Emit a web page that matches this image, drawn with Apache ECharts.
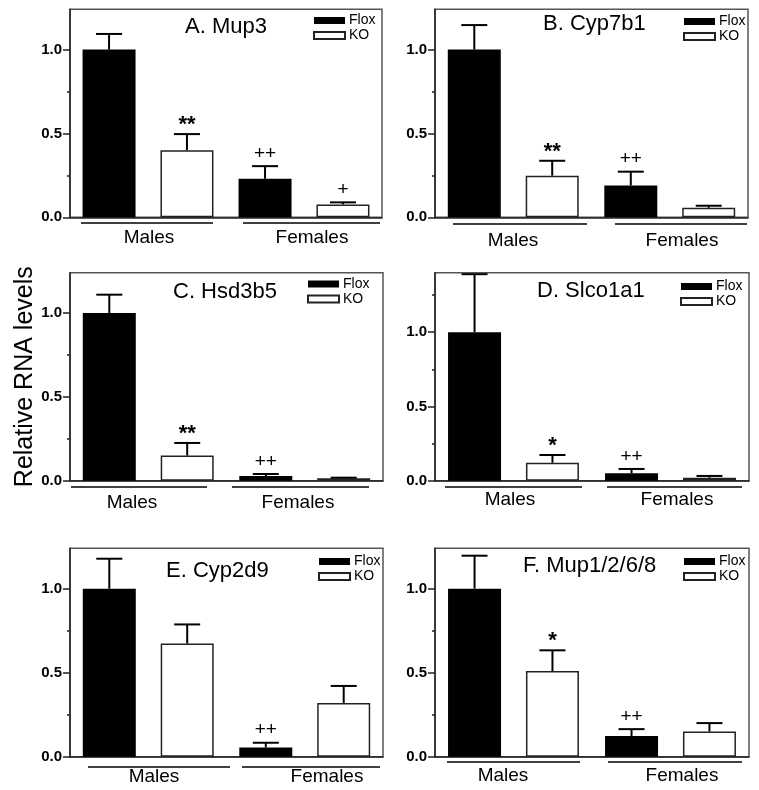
<!DOCTYPE html>
<html>
<head>
<meta charset="utf-8">
<script src="https://cdn.jsdelivr.net/npm/echarts@6/dist/echarts.min.js"></script>
<style>
  html, body { margin: 0; padding: 0; background: #fff; }
  #chart { width: 759px; height: 790px; }
</style>
</head>
<body>
<div id="chart"></div>
<script>
// ---------------- DATA ----------------
const categories = ['Males', 'Females'];
const seriesNames = ['Flox', 'KO'];
const panelTitles = ['A. Mup3', 'B. Cyp7b1', 'C. Hsd3b5', 'D. Slco1a1', 'E. Cyp2d9', 'F. Mup1/2/6/8'];
const floxMean   = [[1.0, 0.23], [1.0, 0.19], [1.0, 0.028], [1.0, 0.05], [1.0, 0.055], [1.0, 0.123]];
const floxErrTop = [[1.093, 0.305], [1.146, 0.272], [1.109, 0.04], [1.39, 0.079], [1.178, 0.083], [1.196, 0.164]];
const koMean     = [[0.40, 0.077], [0.248, 0.057], [0.15, 0.014], [0.121, 0.02], [0.673, 0.32], [0.51, 0.15]];
const koErrTop   = [[0.496, 0.089], [0.337, 0.069], [0.225, 0.018], [0.173, 0.032], [0.787, 0.421], [0.633, 0.2]];
const floxMarks  = [['', '++'], ['', '++'], ['', '++'], ['', '++'], ['', '++'], ['', '++']];
const koMarks    = [['**', '+'], ['**', ''], ['**', ''], ['*', ''], ['', ''], ['*', '']];
const yMax = [1.24, 1.24, 1.24, 1.40, 1.24, 1.24];
const yTickValues = [0, 0.5, 1.0];
const yMinorValues = [0.25, 0.75, 1.25];
const yAxisTitle = 'Relative RNA levels';

// ---------------- LAYOUT ----------------
const FONT = "'Liberation Sans', Arial, Helvetica, sans-serif";
const grids = [
  { left: 70,  top: 9.3,   right: 382, bottom: 217.3 },
  { left: 435, top: 9.3,   right: 748, bottom: 217.3 },
  { left: 70,  top: 272.7, right: 383, bottom: 480.7 },
  { left: 435, top: 272.7, right: 749, bottom: 480.7 },
  { left: 70,  top: 548.3, right: 383, bottom: 756.7 },
  { left: 435, top: 548.3, right: 749, bottom: 756.7 }
];
const titlePos = [[185, 15.5], [543, 13], [173, 281], [537, 280], [166, 560], [523, 555]];
const legendPos = [[313, 13.5], [683, 14.5], [307, 277], [680, 279.5], [318, 554.5], [683, 554.5]];
// group underline: [x1, x2] for Males, Females, and y ; label centres x and y
const groupLines = [
  { m: [81, 213],  f: [243, 380], y: 223, lm: 149, lf: 312, ly: 237.5 },
  { m: [453, 587], f: [615, 747], y: 224, lm: 513, lf: 682, ly: 241 },
  { m: [71, 207],  f: [232, 369], y: 487, lm: 132, lf: 298, ly: 503 },
  { m: [445, 582], f: [607, 742], y: 487, lm: 510, lf: 677, ly: 500 },
  { m: [88, 230],  f: [242, 380], y: 767, lm: 154, lf: 327, ly: 777 },
  { m: [447, 580], f: [608, 742], y: 762, lm: 503, lf: 682, ly: 776 }
];
const BAR_W = 53;
const BAR_GAP = 0.47;
const OFFSET = BAR_W * (1 + BAR_GAP) / 2;
const CAP_HALF = 13;

const option = {
  animation: false,
  backgroundColor: '#fff',
  textStyle: { fontFamily: FONT },
  title: [],
  legend: [],
  grid: [],
  xAxis: [],
  yAxis: [],
  series: [],
  graphic: []
};

function errSeries(p, means, tops, marks, sign, name) {
  return {
    type: 'custom',
    name: name,
    xAxisIndex: p,
    yAxisIndex: 2 * p,
    clip: false,
    z: 5,
    data: categories.map((c, i) => [i, means[p][i], tops[p][i]]),
    encode: { x: 0, y: [1, 2] },
    renderItem: function (params, api) {
      const cat = api.value(0);
      const base = api.coord([cat, api.value(1)]);
      const top = api.coord([cat, api.value(2)]);
      const x = base[0] + sign * OFFSET;
      const mark = marks[p][params.dataIndex];
      const children = [
        { type: 'line', shape: { x1: x, y1: base[1], x2: x, y2: top[1] }, style: { stroke: '#000', lineWidth: 2 } },
        { type: 'line', shape: { x1: x - CAP_HALF, y1: top[1], x2: x + CAP_HALF, y2: top[1] }, style: { stroke: '#000', lineWidth: 2 } }
      ];
      if (mark) {
        const isStar = mark.indexOf('*') >= 0;
        children.push({
          type: 'text',
          style: {
            text: mark, x: x, y: top[1] - (isStar ? -2 : 3),
            align: 'center', verticalAlign: 'bottom',
            fontFamily: FONT, fontSize: isStar ? 22 : 19,
            fontWeight: isStar ? 'bold' : 'normal', fill: '#000'
          }
        });
      }
      return { type: 'group', children: children };
    }
  };
}

for (let p = 0; p < 6; p++) {
  const g = grids[p];
  option.grid.push({
    left: g.left, top: g.top, width: g.right - g.left, height: g.bottom - g.top,
    show: true, borderColor: '#555', borderWidth: 1.5, backgroundColor: 'transparent',
    containLabel: false, outerBoundsMode: 'none'
  });
  option.title.push({
    text: panelTitles[p], left: titlePos[p][0], top: titlePos[p][1], padding: 0,
    textStyle: { fontFamily: FONT, fontSize: 22, fontWeight: 'normal', color: '#000' }
  });
  option.legend.push({
    data: seriesNames, orient: 'vertical', left: legendPos[p][0], top: legendPos[p][1],
    padding: 0, itemWidth: 31, itemHeight: 7, itemGap: 1, selectedMode: false, icon: 'rect',
    textStyle: { fontFamily: FONT, fontSize: 14, lineHeight: 14, color: '#000', padding: [0, 0, 0, -1] }
  });
  option.xAxis.push({
    type: 'category', gridIndex: p, data: categories,
    axisLine: { show: true, lineStyle: { color: '#222', width: 1.5 } },
    axisTick: { show: false }, axisLabel: { show: false }, splitLine: { show: false }
  });
  option.yAxis.push({
    type: 'value', gridIndex: p, position: 'left', min: 0, max: yMax[p],
    name: p === 2 ? yAxisTitle : '',
    nameLocation: 'middle', nameRotate: 90, nameGap: 30,
    nameTextStyle: { fontFamily: FONT, fontSize: 25, color: '#000' },
    axisLine: { show: true, lineStyle: { color: '#222', width: 1.5 } },
    axisTick: { show: true, length: 7, customValues: yTickValues, lineStyle: { color: '#222', width: 1.5 } },
    axisLabel: {
      show: true, customValues: yTickValues, margin: 8,
      formatter: v => v.toFixed(1),
      fontFamily: FONT, fontSize: 15, fontWeight: 'bold', color: '#000'
    },
    splitLine: { show: false }
  });
  option.yAxis.push({
    type: 'value', gridIndex: p, position: 'left', offset: 0, min: 0, max: yMax[p],
    axisLine: { show: false },
    axisTick: { show: true, length: 3, customValues: yMinorValues.filter(v => v < yMax[p]), lineStyle: { color: '#222', width: 1.5 } },
    axisLabel: { show: false },
    splitLine: { show: false }
  });
  option.series.push({
    type: 'bar', name: 'Flox', xAxisIndex: p, yAxisIndex: 2 * p,
    data: floxMean[p], barWidth: BAR_W, barGap: (BAR_GAP * 100) + '%',
    itemStyle: { color: '#000' }, z: 2
  });
  option.series.push({
    type: 'bar', name: 'KO', xAxisIndex: p, yAxisIndex: 2 * p,
    data: koMean[p], barWidth: BAR_W, barGap: (BAR_GAP * 100) + '%',
    itemStyle: { color: '#fff', borderColor: '#222', borderWidth: 1.5 }, z: 2
  });
  option.series.push(errSeries(p, floxMean, floxErrTop, floxMarks, -1, 'Flox SEM'));
  option.series.push(errSeries(p, koMean, koErrTop, koMarks, 1, 'KO SEM'));

  const gl = groupLines[p];
  option.graphic.push(
    { type: 'line', shape: { x1: gl.m[0], y1: gl.y, x2: gl.m[1], y2: gl.y }, style: { stroke: '#000', lineWidth: 1.5 } },
    { type: 'line', shape: { x1: gl.f[0], y1: gl.y, x2: gl.f[1], y2: gl.y }, style: { stroke: '#000', lineWidth: 1.5 } },
    { type: 'text', x: gl.lm, y: gl.ly, style: { text: categories[0], align: 'center', verticalAlign: 'middle', fontFamily: FONT, fontSize: 19, fill: '#000' } },
    { type: 'text', x: gl.lf, y: gl.ly, style: { text: categories[1], align: 'center', verticalAlign: 'middle', fontFamily: FONT, fontSize: 19, fill: '#000' } }
  );
}

const chart = echarts.init(document.getElementById('chart'), null, { renderer: 'canvas' });
chart.setOption(option);
</script>
</body>
</html>
